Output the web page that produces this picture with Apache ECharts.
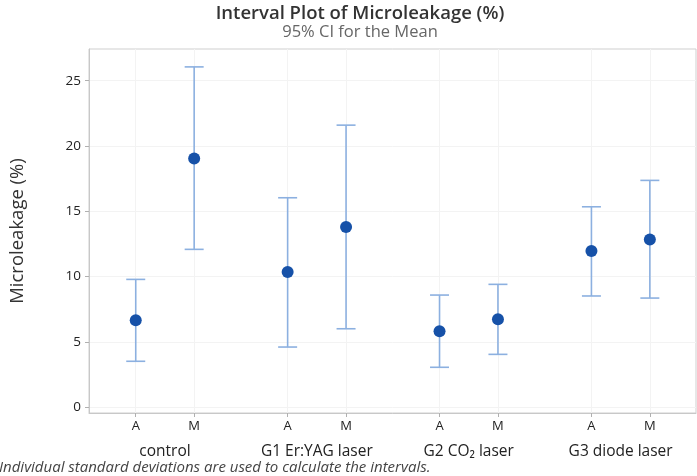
<!DOCTYPE html>
<html>
<head>
<meta charset="utf-8">
<script src="https://cdn.jsdelivr.net/npm/echarts@6/dist/echarts.min.js"></script>
<style>html,body{margin:0;padding:0;background:#fff}#c{width:697px;height:476px}</style>
</head>
<body>
<div id="c"></div>
<script>
var groups = ['control', 'G1 Er:YAG laser', 'G2 CO₂ laser', 'G3 diode laser'];
var subgroups = ['A', 'M'];
var means = [6.66, 19.05, 10.35, 13.8, 5.82, 6.73, 11.96, 12.85];
var lower = [3.52, 12.09, 4.61, 6.01, 3.06, 4.05, 8.52, 8.36];
var upper = [9.79, 26.06, 16.04, 21.6, 8.59, 9.41, 15.35, 17.37];
var yTicks = [0, 5, 10, 15, 20, 25];

var GROUP_STEP = 2.6;
var xPos = [], xLab = {}, midPos = [], midLab = {};
groups.forEach(function (g, gi) {
  subgroups.forEach(function (s, si) {
    var p = +(gi * GROUP_STEP + si).toFixed(3);
    xPos.push(p); xLab[p] = s;
  });
  var m = +(gi * GROUP_STEP + 0.5).toFixed(3);
  midPos.push(m); midLab[m] = g;
});
var xMin = -0.8, xMax = (groups.length - 1) * GROUP_STEP + 1 + 0.79;

var barData = means.map(function (v, i) { return [xPos[i], lower[i], upper[i]]; });
var ptData = means.map(function (v, i) { return [xPos[i], v]; });

var chart = echarts.init(document.getElementById('c'));
var font = '"Open Sans", "Noto Sans", sans-serif';
chart.setOption({
  animation: false,
  textStyle: { fontFamily: font },
  title: {
    text: 'Interval Plot of Microleakage (%)',
    subtext: '95% CI for the Mean',
    left: 355, textAlign: 'center', top: -1, itemGap: 1,
    textStyle: { fontFamily: font, fontSize: 18.5, fontWeight: 600, color: '#333' },
    subtextStyle: { fontFamily: font, fontSize: 16.5, color: '#666' }
  },
  grid: { left: 88.5, right: 1, top: 49, bottom: 63, show: true, borderColor: '#cfcfcf', borderWidth: 1 },
  xAxis: [{
    type: 'value', min: xMin, max: xMax,
    axisLine: { show: true, onZero: false, lineStyle: { color: '#c8c8c8' } },
    axisTick: { show: true, length: 4, customValues: xPos, lineStyle: { color: '#b0b0b0' } },
    axisLabel: { customValues: xPos, margin: 7, fontSize: 13, color: '#222', formatter: function (v) { return xLab[+(+v).toFixed(3)] || ''; } },
    splitLine: { show: true, lineStyle: { color: '#f3f3f3' } }
  }, {
    type: 'value', min: xMin, max: xMax, position: 'bottom',
    axisLine: { show: false, onZero: false }, axisTick: { show: false }, splitLine: { show: false },
    axisLabel: { customValues: midPos, margin: 31, fontSize: 15.5, color: '#222', formatter: function (v) { return midLab[+(+v).toFixed(3)] || ''; } }
  }],
  yAxis: {
    type: 'value', min: -0.44, max: 27.43,
    name: 'Microleakage (%)', nameLocation: 'middle', nameGap: 62, nameRotate: 90,
    nameTextStyle: { fontSize: 18.5, color: '#333', fontFamily: font },
    axisLine: { show: true, onZero: false, lineStyle: { color: '#c8c8c8' } },
    axisTick: { show: true, length: 4, customValues: yTicks, lineStyle: { color: '#b0b0b0' } },
    axisLabel: { customValues: yTicks, margin: 8, fontSize: 13.5, color: '#222' },
    splitLine: { show: true, lineStyle: { color: '#f3f3f3' } }
  },
  series: [{
    type: 'custom',
    xAxisIndex: 0,
    data: barData,
    renderItem: function (params, api) {
      var x = api.value(0);
      var lo = api.coord([x, api.value(1)]);
      var hi = api.coord([x, api.value(2)]);
      var w = 9.5;
      var st = { stroke: '#8cb0e0', lineWidth: 1.6, fill: null };
      return {
        type: 'group',
        children: [
          { type: 'line', shape: { x1: hi[0], y1: hi[1], x2: lo[0], y2: lo[1] }, style: st },
          { type: 'line', shape: { x1: hi[0] - w, y1: hi[1], x2: hi[0] + w, y2: hi[1] }, style: st },
          { type: 'line', shape: { x1: lo[0] - w, y1: lo[1], x2: lo[0] + w, y2: lo[1] }, style: st }
        ]
      };
    },
    z: 2
  }, {
    type: 'scatter',
    xAxisIndex: 0,
    data: ptData,
    symbolSize: 12,
    itemStyle: { color: '#1651a8', opacity: 1 },
    z: 3
  }],
  graphic: [{
    type: 'text', left: -1, top: 460,
    style: { text: 'Individual standard deviations are used to calculate the intervals.', fontFamily: font, fontStyle: 'italic', fontSize: 15, fill: '#444' }
  }]
});
</script>
</body>
</html>
